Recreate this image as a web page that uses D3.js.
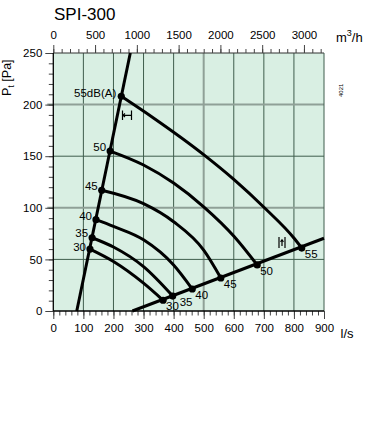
<!DOCTYPE html>
<html><head><meta charset="utf-8">
<script src="https://cdn.jsdelivr.net/npm/d3@7"></script>
<style>body{margin:0;background:#fff}svg{display:block;font-family:"Liberation Sans",Arial,sans-serif}</style>
</head><body><svg id="c" width="368" height="432"></svg>
<script>
// ---- data ----
const title = "SPI-300";
const levels = [55, 50, 45, 40, 35, 30];
const leftLabels = ["55dB(A)", "50", "45", "40", "35", "30"];
const rightLabels = ["55", "50", "45", "40", "35", "30"];
// sound curves [l/s, Pa]
const curve55 = [[226,208],[333,187],[502,151],[602,127],[702,100],[802,70],[826,61]];
const curve50 = [[189,155],[300,141.5],[400,124],[500,101],[602,72],[678,44.6]];
const curve45 = [[161,117],[300,104],[400,86.5],[500,59],[557,32]];
const curve40 = [[142,88.5],[200,82],[300,69],[400,44.6],[462,21.3]];
const curve35 = [[129,71],[200,62],[300,43],[397,14.5]];
const curve30 = [[122,60],[200,48],[300,27],[365,10.4]];
const curves = [curve55, curve50, curve45, curve40, curve35, curve30];
// system lines
const sysLeft = [[78,0],[256,250]];
const sysRight = [[263,0],[900,70.5]];
// axes
const xTicks = [0,100,200,300,400,500,600,700,800,900];
const yTicks = [0,50,100,150,200,250];
const m3hTicks = [0,500,1000,1500,2000,2500,3000];

// ---- layout ----
const svg = d3.select("#c");
const X0 = 53.3, X1 = 324, Y0 = 311, Y1 = 53;
const x = d3.scaleLinear().domain([0, 900]).range([X0, X1]);
const y = d3.scaleLinear().domain([0, 250]).range([Y0, Y1]);
const xm = d3.scaleLinear().domain([0, 900 * 3.6]).range([X0, X1]);

svg.append("rect").attr("x", X0).attr("y", Y1).attr("width", X1 - X0).attr("height", Y0 - Y1)
  .attr("fill", "#d9efe3");

// grid
const g = svg.append("g");
xTicks.filter(v => v > 0 && v < 900).forEach(v => {
  const major = v === 500;
  g.append("line").attr("x1", x(v)).attr("x2", x(v)).attr("y1", Y1).attr("y2", Y0)
    .attr("stroke", major ? "#8fa097" : "#3f5d4d").attr("stroke-width", major ? 2 : 1);
});
yTicks.filter(v => v > 0 && v < 250).forEach(v => {
  const major = v === 100 || v === 200;
  g.append("line").attr("x1", major ? X0 - 6 : X0).attr("x2", X1).attr("y1", y(v)).attr("y2", y(v))
    .attr("stroke", major ? "#8fa097" : "#3f5d4d").attr("stroke-width", major ? 2 : 1);
});
// frame
svg.append("line").attr("x1", X0).attr("x2", X1).attr("y1", Y1).attr("y2", Y1).attr("stroke", "#333").attr("stroke-width", 1.2);
svg.append("line").attr("x1", X1).attr("x2", X1).attr("y1", Y1).attr("y2", Y0).attr("stroke", "#3f5d4d").attr("stroke-width", 1);

// axes
function styleAxis(sel) {
  sel.selectAll(".domain").remove();
  sel.selectAll("line").attr("stroke", "#444");
  sel.selectAll("text").attr("fill", "#000").style("font-size", "11.5px").style("font-family", '"Liberation Sans",Arial,sans-serif');
}
svg.append("g").attr("transform", `translate(0,${Y0})`)
  .call(d3.axisBottom(x).tickValues(d3.range(0, 901, 20)).tickSize(4.5).tickFormat(""))
  .call(styleAxis);
svg.append("g").attr("transform", `translate(0,${Y0})`)
  .call(d3.axisBottom(x).tickValues(xTicks).tickSize(8).tickPadding(5).tickFormat(d3.format("d")))
  .call(styleAxis);
svg.append("g").attr("transform", `translate(${X0},0)`)
  .call(d3.axisLeft(y).tickValues(d3.range(0, 251, 10)).tickSize(4.5).tickFormat(""))
  .call(styleAxis);
svg.append("g").attr("transform", `translate(${X0},0)`)
  .call(d3.axisLeft(y).tickValues(yTicks).tickSize(8).tickPadding(3).tickFormat(d3.format("d")))
  .call(styleAxis);
svg.append("g").attr("transform", `translate(0,${Y1})`)
  .call(d3.axisTop(xm).tickValues(d3.range(0, 3241, 100)).tickSize(4).tickFormat(""))
  .call(styleAxis);
svg.append("g").attr("transform", `translate(0,${Y1})`)
  .call(d3.axisTop(xm).tickValues(m3hTicks).tickSize(8).tickPadding(6).tickFormat(d3.format("d")))
  .call(styleAxis);
svg.append("line").attr("x1", X0).attr("x2", X0).attr("y1", Y1).attr("y2", Y0).attr("stroke", "#000").attr("stroke-width", 1.3);
svg.append("line").attr("x1", X0).attr("x2", X1).attr("y1", Y0).attr("y2", Y0).attr("stroke", "#000").attr("stroke-width", 1.3);

// curves
const line = d3.line().x(d => x(d[0])).y(d => y(d[1]));
const smooth = d3.line().x(d => x(d[0])).y(d => y(d[1])).curve(d3.curveMonotoneX);
const plot = svg.append("g");
plot.append("path").attr("d", line(sysLeft)).attr("fill", "none").attr("stroke", "#000").attr("stroke-width", 3);
plot.append("path").attr("d", line(sysRight)).attr("fill", "none").attr("stroke", "#000").attr("stroke-width", 3);
curves.forEach(c => {
  plot.append("path").attr("d", smooth(c)).attr("fill", "none").attr("stroke", "#000").attr("stroke-width", 3);
});
curves.forEach(c => {
  [c[0], c[c.length - 1]].forEach(p => {
    plot.append("circle").attr("cx", x(p[0])).attr("cy", y(p[1])).attr("r", 3.6).attr("fill", "#000");
  });
});

// labels
const lblFont = "11.5px";
const leftDy = [1, -0.5, 0, 0, -1, 1.5];
curves.forEach((c, i) => {
  const p = c[0];
  plot.append("text").attr("x", x(p[0]) - (i === 0 ? 5 : 4)).attr("y", y(p[1]) + leftDy[i])
    .attr("text-anchor", "end").style("font-size", lblFont).text(leftLabels[i]);
  const q = c[c.length - 1];
  const dx = i === 4 ? 7 : 3;
  plot.append("text").attr("x", x(q[0]) + dx).attr("y", y(q[1]) + 10)
    .style("font-size", lblFont).text(rightLabels[i]);
});

// small marks
const mk = svg.append("g").attr("stroke", "#000").attr("stroke-width", 1.2).attr("fill", "none");
mk.append("path").attr("d", "M122.5,110.5V120M131.5,110.5V120M123,115.3H131");
mk.append("path").attr("d", "M125,113.5L123,115.3L125,117");
mk.append("path").attr("d", "M279,237V248M285,237V248M282,240V246");
mk.append("path").attr("d", "M280.6,241.8L282,239.8L283.4,241.8");

// texts
svg.append("text").attr("x", 54).attr("y", 19.5).style("font-size", "17px").text(title);
const mt = svg.append("text").attr("x", 336).attr("y", 42).style("font-size", "13px");
mt.append("tspan").text("m");
mt.append("tspan").attr("dy", -6).style("font-size", "9px").text("3");
mt.append("tspan").attr("dy", 6).text("/h");
svg.append("text").attr("x", 340.5).attr("y", 338).style("font-size", "13px").text("l/s");
const yl = svg.append("text").attr("transform", "translate(11,96) rotate(-90)").style("font-size", "12.5px");
yl.append("tspan").text("P");
yl.append("tspan").attr("dy", 3).style("font-size", "9px").text("t");
yl.append("tspan").attr("dy", -3).text(" [Pa]");
svg.append("text").attr("transform", "translate(343,97) rotate(-90)").style("font-size", "6px").text("4021");
</script></body></html>
